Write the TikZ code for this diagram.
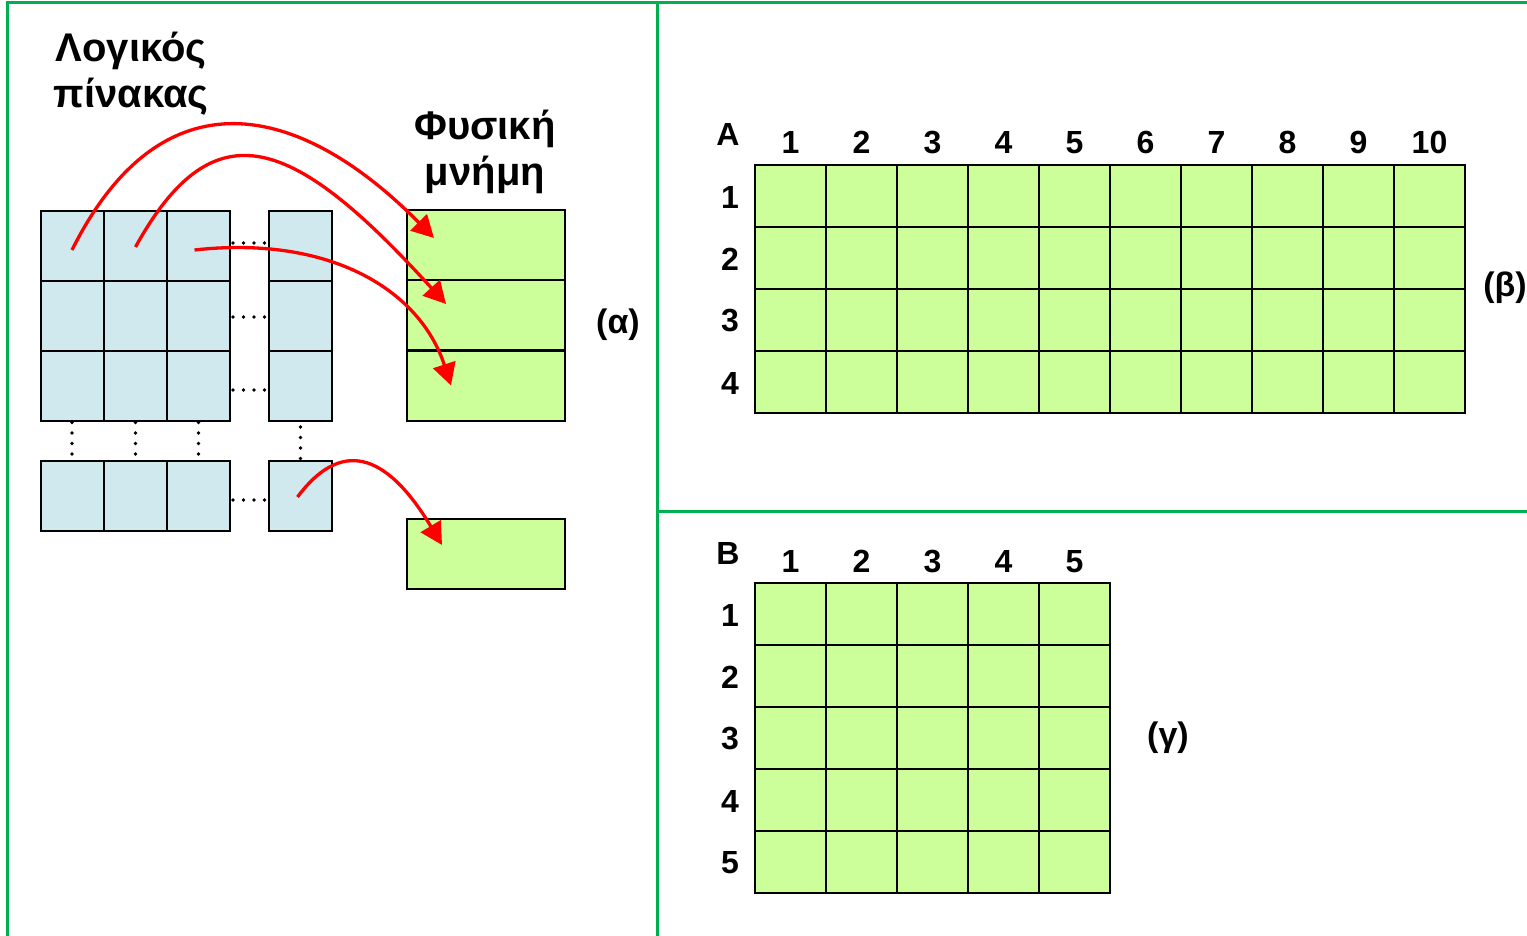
\documentclass[tikz,border=0pt]{standalone}
\usepackage{fontspec}
\setmainfont{Liberation Sans}
\usetikzlibrary{arrows.meta,calc}
\definecolor{framegreen}{HTML}{00B050}
\definecolor{cellblue}{HTML}{D0E9EE}
\definecolor{cellgreen}{HTML}{CCFF99}
\tikzset{
  frameline/.style={draw=framegreen,line width=3pt},
  bluecell/.style={draw=black,fill=cellblue,line width=2pt,inner sep=0pt,outer sep=0pt,minimum width=63pt,minimum height=70pt},
  memcell/.style={draw=black,fill=cellgreen,line width=2pt,inner sep=0pt,outer sep=0pt,minimum width=158pt,minimum height=70pt},
  gridcell/.style={draw=black,fill=cellgreen,line width=2pt,inner sep=0pt,outer sep=0pt,minimum width=71pt,minimum height=62pt},
  titletext/.style={font=\fontsize{40}{48}\selectfont\bfseries,inner sep=0pt},
  numtext/.style={font=\fontsize{32}{38}\selectfont\bfseries,inner sep=0pt},
  captext/.style={font=\fontsize{34}{40}\selectfont\bfseries,inner sep=0pt},
  dotline/.style={line width=3.6pt,dash pattern=on 0pt off 10.5pt,line cap=round},
  maparrow/.style={draw=red,line width=3.3pt,-{Triangle[length=22pt,width=23pt]}}
}
\begin{document}
\begin{tikzpicture}[x=1pt,y=-1pt]
\useasboundingbox (0,0) rectangle (1527,936);
% frame
\draw[frameline] (7,936) -- (7,3) -- (1527,3);
\draw[frameline] (657,3) -- (657,936);
\draw[frameline] (657,511) -- (1527,511);
% titles
\node[titletext,anchor=base] (t1a) at (131,62) {Λογικός};
\node[titletext,anchor=base] (t1b) at (131,108) {πίνακας};
\node[titletext,anchor=base] (t2a) at (485,140) {Φυσική};
\node[titletext,anchor=base] (t2b) at (485,186) {μνήμη};
% logical table cells
\foreach \r/\y in {1/246,2/316,3/386,4/496}{
  \foreach \c/\x in {1/72,2/135.5,3/198.5,4/300.5}{
    \node[bluecell] (L-\r-\c) at (\x,\y) {};
  }
}
% dots
\foreach \r in {1,2,3,4}{
  \coordinate (dl\r) at ($(L-\r-3.east)+(3,0)$);
  \coordinate (dr\r) at ($(L-\r-4.west)+(-3,0)$);
}
\draw[dotline] ($(dl1)+(0,-3)$) -- ($(dr1)+(0,-3)$);
\draw[dotline] ($(dl2)+(0,1)$) -- ($(dr2)+(0,1)$);
\draw[dotline] ($(dl3)+(0,4)$) -- ($(dr3)+(0,4)$);
\draw[dotline] ($(dl4)+(0,4)$) -- ($(dr4)+(0,4)$);
\foreach \c in {1,2,3}{
  \draw[dotline] ($(L-3-\c.south)+(0,1.5)$) -- ($(L-4-\c.north)+(0,-7)$);
}
\draw[dotline] ($(L-3-4.south)+(0,6)$) -- ($(L-4-4.north)+(0,0)$);
% physical memory
\node[memcell] (G1) at (486,245) {};
\node[memcell] (G2) at (486,315) {};
\node[memcell] (G3) at (486,385.5) {};
\node[memcell] (G4) at (486,554) {};
\node[captext] (la) at (618,325) {(α)};
% arrow targets
\coordinate (e1) at ($(G1.center)+(-52,-7)$);
\coordinate (e2) at ($(G2.center)+(-40,-11)$);
\coordinate (e3) at ($(G3.center)+(-35,0)$);
\coordinate (e4) at ($(G4.center)+(-44,-9)$);
\draw[maparrow] ($(L-1-1.center)+(0,4)$) .. controls (162,70) and (300,102) .. (e1);
\draw[maparrow] ($(L-1-2.center)+(0,1)$) .. controls (215,103) and (295,138) .. (e2);
\draw[maparrow] ($(L-1-3.center)+(-4,4)$) .. controls (330,235) and (420,290) .. (e3);
\draw[maparrow] ($(L-4-4.center)+(-3,1)$) .. controls (340,440) and (385,450) .. (e4);
% grid A
\foreach \i in {1,...,4}{
  \foreach \j in {1,...,10}{
    \node[gridcell] (A-\i-\j) at ({755+71*(\j-0.5)},{165+62*(\i-0.5)}) {};
  }
}
\node[numtext,anchor=base] (Alab) at (728,146) {A};
\foreach \j in {1,...,10}{
  \node[numtext,anchor=base] (Ac-\j) at ($(A-1-\j.north)+(0,-11)$) {\j};
}
\foreach \i in {1,...,4}{
  \node[numtext] (Ar-\i) at ($(A-\i-1.west)+(-25,1)$) {\i};
}
\node[captext] (lb) at (1505,288) {(β)};
% grid B
\foreach \i in {1,...,5}{
  \foreach \j in {1,...,5}{
    \node[gridcell] (B-\i-\j) at ({755+71*(\j-0.5)},{583+62*(\i-0.5)}) {};
  }
}
\node[numtext,anchor=base] (Blab) at (728,564) {B};
\foreach \j in {1,...,5}{
  \node[numtext,anchor=base] (Bc-\j) at ($(B-1-\j.north)+(0,-11)$) {\j};
}
\foreach \i in {1,...,5}{
  \node[numtext] (Br-\i) at ($(B-\i-1.west)+(-25,1)$) {\i};
}
\node[captext] (lg) at (1168,738) {(γ)};
\end{tikzpicture}
\end{document}
